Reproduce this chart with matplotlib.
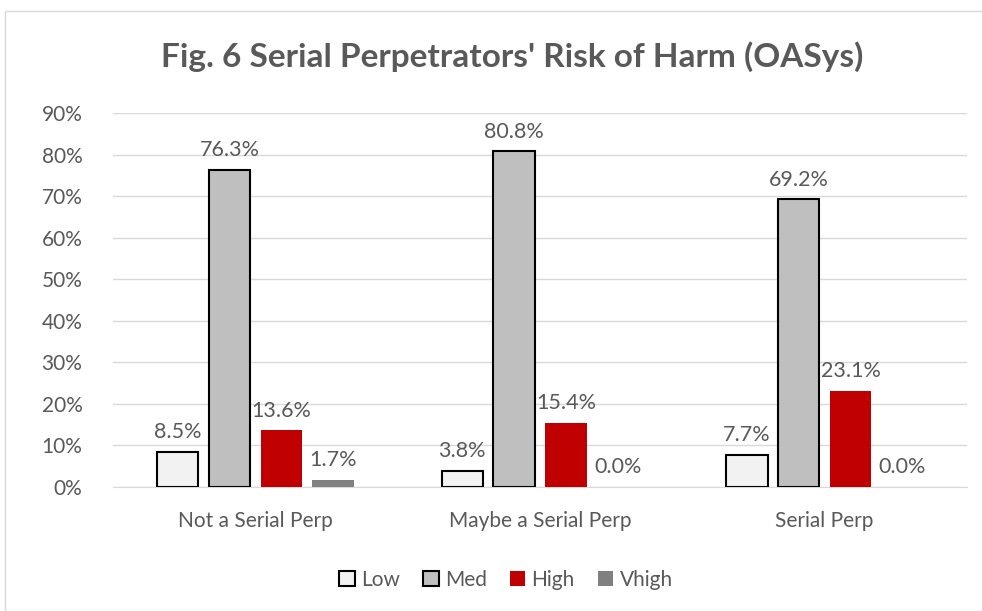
import numpy as np
import matplotlib.pyplot as plt
from matplotlib.patches import Rectangle

categories = ['Not a Serial Perp', 'Maybe a Serial Perp', 'Serial Perp']
series = ['Low', 'Med', 'High', 'Vhigh']
low = [8.5, 3.8, 7.7]
med = [76.3, 80.8, 69.2]
high = [13.6, 15.4, 23.1]
vhigh = [1.7, 0.0, 0.0]
yticks = [0, 10, 20, 30, 40, 50, 60, 70, 80, 90]

plt.rcParams['font.family'] = ['Lato', 'DejaVu Sans']
txt = '#595959'

fig = plt.figure(figsize=(9.82, 6.11), dpi=100)
fig.patches.append(Rectangle((5 / 982, 0), 1, 1 - 11 / 611, transform=fig.transFigure,
                             facecolor='none', edgecolor='#d9d9d9', lw=1))
ax = fig.add_axes([113 / 982, 1 - 487 / 611, (967 - 113) / 982, (487 - 113) / 611])

x = np.arange(len(categories))
w = 0.145
step = 0.182
faces = ['#f2f2f2', '#bfbfbf', '#c00000', '#808080']
edges = ['black', 'black', 'none', 'none']
for i, (name, vals) in enumerate(zip(series, [low, med, high, vhigh])):
    pos = x + (i - 1.5) * step
    ax.bar(pos, vals, w, color=faces[i], edgecolor=edges[i],
           linewidth=1.5 if edges[i] != 'none' else 0, label=name, zorder=3)
    for p, v in zip(pos, vals):
        ax.annotate(f'{v:.1f}%', (p, v), xytext=(0, 7), textcoords='offset points',
                    ha='center', va='bottom', fontsize=15.5, color=txt)

ax.set_xlim(-0.5, 2.5)
ax.set_ylim(0, 90)
ax.set_yticks(yticks)
ax.set_yticklabels([f'{t}%' for t in yticks])
ax.set_xticks(x)
ax.set_xticklabels(categories)
ax.tick_params(axis='both', length=0, labelsize=15, colors=txt)
ax.tick_params(axis='y', pad=22)
ax.tick_params(axis='x', pad=17)
ax.grid(axis='y', color='#d9d9d9', lw=1, zorder=0)
for s in ['top', 'right', 'left']:
    ax.spines[s].set_visible(False)
ax.spines['bottom'].set_color('#d9d9d9')

fig.text(512 / 982, 1 - 57 / 611, "Fig. 6 Serial Perpetrators' Risk of Harm (OASys)",
         ha='center', va='center', fontsize=24, fontweight='bold', color=txt)

fig.legend(loc='center', bbox_to_anchor=(506 / 982, 1 - 580 / 611), ncol=4, frameon=False,
           fontsize=15, labelcolor=txt, handlelength=0.75, handleheight=0.75,
           handletextpad=0.3, columnspacing=1.1)

fig.savefig('out.png', dpi=100)
